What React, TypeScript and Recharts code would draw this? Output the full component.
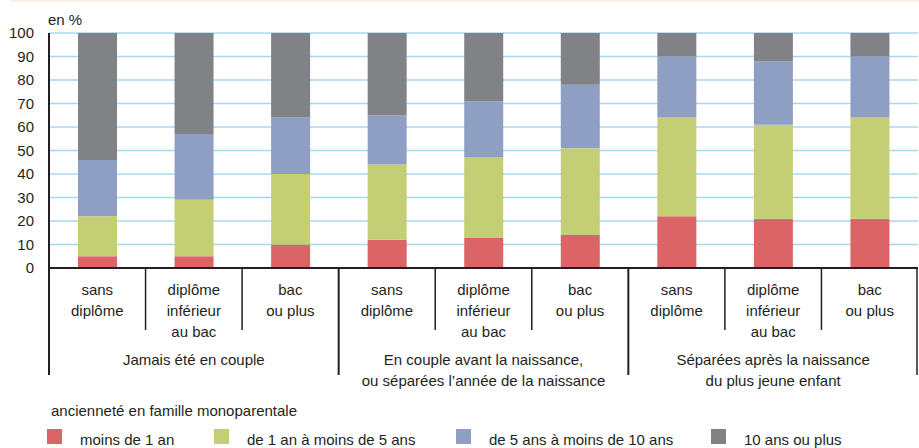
import React from 'react';
import { BarChart, Bar, XAxis, YAxis, CartesianGrid, Legend } from 'recharts';

// ---- data ----
const CATEGORIES = [
  'Jamais été en couple - sans diplôme',
  'Jamais été en couple - diplôme inférieur au bac',
  'Jamais été en couple - bac ou plus',
  'En couple avant la naissance - sans diplôme',
  'En couple avant la naissance - diplôme inférieur au bac',
  'En couple avant la naissance - bac ou plus',
  'Séparées après la naissance - sans diplôme',
  'Séparées après la naissance - diplôme inférieur au bac',
  'Séparées après la naissance - bac ou plus',
];
const EDUCATION_LABELS = [
  ['sans', 'diplôme'],
  ['diplôme', 'inférieur', 'au bac'],
  ['bac', 'ou plus'],
];
const GROUP_LABELS = [
  ['Jamais été en couple'],
  ['En couple avant la naissance,', 'ou séparées l’année de la naissance'],
  ['Séparées après la naissance', 'du plus jeune enfant'],
];
const LESS_THAN_1 = [5, 5, 10, 12, 13, 14, 22, 21, 21];
const FROM_1_TO_5 = [17, 24, 30, 32, 34, 37, 42, 40, 43];
const FROM_5_TO_10 = [24, 28, 24, 21, 24, 27, 26, 27, 26];
const TEN_OR_MORE = [54, 43, 36, 35, 29, 22, 10, 12, 10];
const SERIES_KEYS = ['s0', 's1', 's2', 's3'];
const SERIES_NAMES = ['moins de 1 an', 'de 1 an à moins de 5 ans', 'de 5 ans à moins de 10 ans', '10 ans ou plus'];
const SERIES_COLORS = ['#DB6466', '#C4CE74', '#8F9FC4', '#818285'];
const Y_TICKS = [0, 10, 20, 30, 40, 50, 60, 70, 80, 90, 100];
const LEGEND_TITLE = 'ancienneté en famille monoparentale';
const UNIT_LABEL = 'en %';

const data = CATEGORIES.map((c, i) => ({
  name: c,
  s0: LESS_THAN_1[i],
  s1: FROM_1_TO_5[i],
  s2: FROM_5_TO_10[i],
  s3: TEN_OR_MORE[i],
}));

const INK = '#231F20';
const FONT = '"Liberation Sans", Arial, Helvetica, sans-serif';

const CategoryTick = (props: any) => {
  const { x, y, payload } = props;
  const i: number = payload?.index ?? props.index ?? 0;
  const half: number = payload?.offset ?? 48.3;
  const left = x - half;
  const right = x + half;
  const groupStart = i % 3 === 0;
  const edu = EDUCATION_LABELS[i % 3];
  const grp = GROUP_LABELS[Math.floor(i / 3)];
  return (
    <g>
      <line x1={left} x2={left} y1={y} y2={y + (groupStart ? 107 : 62)} stroke={INK} strokeWidth={groupStart ? 2 : 1.5} />
      {i === CATEGORIES.length - 1 && (
        <line x1={right - 1} x2={right - 1} y1={y} y2={y + 107} stroke={INK} strokeWidth={1.5} />
      )}
      <text textAnchor="middle" fontSize={15} fill={INK} fontFamily={FONT}>
        {edu.map((l, k) => (
          <tspan key={k} x={x} y={y + 27 + 21 * k}>{l}</tspan>
        ))}
      </text>
      {i % 3 === 1 && (
        <text textAnchor="middle" fontSize={15} fill={INK} fontFamily={FONT}>
          {grp.map((l, k) => (
            <tspan key={k} x={x} y={y + 97 + 21 * k}>{l}</tspan>
          ))}
        </text>
      )}
    </g>
  );
};

const LEGEND_X = [47, 214, 456, 711];

const LegendContent = (props: any) => {
  const raw = props.payload || [];
  const payload = [...raw].sort(
    (a: any, b: any) => SERIES_KEYS.indexOf(String(a.dataKey)) - SERIES_KEYS.indexOf(String(b.dataKey))
  );
  return (
    <div style={{ position: 'relative', width: 919, height: 70, fontFamily: FONT, fontSize: 15, lineHeight: '15px', color: INK }}>
      <div style={{ position: 'absolute', left: 51, top: 25, whiteSpace: 'nowrap' }}>{LEGEND_TITLE}</div>
      {payload.map((p: any, i: number) => (
        <React.Fragment key={i}>
          <div style={{ position: 'absolute', left: LEGEND_X[i], top: 51, width: 15, height: 15, background: p.color }} />
          <div style={{ position: 'absolute', left: LEGEND_X[i] + 33, top: 54, whiteSpace: 'nowrap' }}>{p.value}</div>
        </React.Fragment>
      ))}
    </div>
  );
};

const UnitLabel = (props: any) => {
  const vb = props.viewBox || { x: 9, y: 33, width: 40 };
  return (
    <text x={vb.x + vb.width - 1} y={vb.y - 8} fontSize={15} fill={INK} fontFamily={FONT} textAnchor="start">
      {UNIT_LABEL}
    </text>
  );
};

export default function App() {
  return (
    <div style={{ position: 'absolute', left: 0, top: 0, width: 919, height: 448, background: '#fff', fontFamily: FONT }}>
      <div style={{ position: 'absolute', left: 10, top: 0, width: 909, height: 2, background: '#FCF0E4' }} />
      <BarChart width={919} height={448} data={data} margin={{ top: 33, right: 1, left: 9, bottom: 0 }}>
        <CartesianGrid vertical={false} stroke="#A8D7F0" strokeWidth={1.4} />
        <XAxis
          dataKey="name"
          interval={0}
          height={110}
          tickLine={false}
          tickSize={0}
          tickMargin={0}
          axisLine={{ stroke: INK, strokeWidth: 2 }}
          tick={<CategoryTick />}
        />
        <YAxis
          width={40}
          domain={[0, 100]}
          ticks={Y_TICKS}
          interval={0}
          tickLine={false}
          tickSize={0}
          tickMargin={15}
          axisLine={{ stroke: INK, strokeWidth: 2 }}
          tick={{ fontSize: 15, fill: INK, fontFamily: FONT }}
          label={<UnitLabel />}
        />
        <Legend
          verticalAlign="bottom"
          align="left"
          height={70}
          wrapperStyle={{ left: 0, bottom: 0, width: 919, height: 70 }}
          content={<LegendContent />}
        />
        {SERIES_KEYS.map((k, i) => (
          <Bar key={k} dataKey={k} name={SERIES_NAMES[i]} stackId="a" fill={SERIES_COLORS[i]} barSize={39} isAnimationActive={false} />
        ))}
      </BarChart>
    </div>
  );
}
